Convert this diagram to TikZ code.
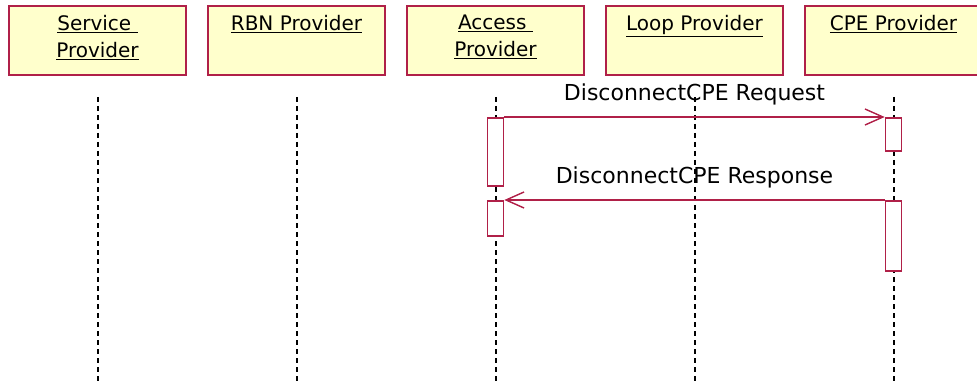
\documentclass[tikz,border=0pt]{standalone}
\usepackage{fontspec}
\setmainfont{DejaVu Sans}
\usepackage{xcolor}
\usetikzlibrary{arrows.meta}
\usetikzlibrary{positioning}
\definecolor{umlred}{RGB}{176,32,72}
\definecolor{umlfill}{RGB}{255,255,204}

\begin{document}
\begin{tikzpicture}[x=1pt, y=-1pt,
    actor/.style={draw=umlred, fill=umlfill, line width=1.6pt, minimum width=177pt, minimum height=69pt, inner sep=0pt},
    title/.style={align=center, inner sep=0pt, font=\fontsize{20}{27}\selectfont},
    lifeline/.style={black, line width=2pt, dash pattern=on 5pt off 4pt},
    activation/.style={draw=umlred, fill=white, line width=1.6pt, minimum width=16pt, inner sep=0pt, anchor=north},
    msg/.style={umlred, line width=1.4pt, -{Straight Barb[length=18pt, width=16pt]}},
    msglabel/.style={text=black, inner sep=0pt, font=\fontsize{22}{26}\selectfont}]
    \useasboundingbox (0,0) rectangle (977,385);
    \node[actor, anchor=north] (sp) at (97.5,5) {};
    \node[actor, right=20.4pt of sp] (rbn) {};
    \node[actor, right=20.4pt of rbn] (ap) {};
    \node[actor, right=20.4pt of ap] (lp) {};
    \node[actor, right=20.4pt of lp] (cpe) {};
    \node[title, below=10pt of sp.north] (sptxt) {\underline{Service\ }\\\underline{Provider}};
    \node[title, below=10pt of rbn.north] (rbntxt) {\underline{RBN Provider}};
    \node[title, below=10pt of ap.north] (aptxt) {\underline{Access\ }\\\underline{Provider}};
    \node[title, below=10pt of lp.north] (lptxt) {\underline{Loop Provider}};
    \node[title, below=10pt of cpe.north] (cpetxt) {\underline{CPE Provider}};
    \foreach \a in {sp, rbn, ap, lp, cpe} {
        \coordinate (\a top) at (\a.south |- 0,97);
        \coordinate (\a bot) at (\a.south |- 0,385);
        \draw[lifeline] (\a top) -- (\a bot);
    }
    \node[activation, minimum height=68pt] (ap1) at (ap.south |- 0,117) {};
    \node[activation, minimum height=35pt] (ap2) at (ap.south |- 0,200) {};
    \node[activation, minimum height=33pt] (cpe1) at (cpe.south |- 0,117) {};
    \node[activation, minimum height=70pt] (cpe2) at (cpe.south |- 0,200) {};
    \draw[msg] (ap1.north east) -- node[msglabel, above=11pt] (req) {DisconnectCPE Request} (cpe1.north west);
    \draw[msg] (cpe2.north west) -- node[msglabel, above=11pt] (resp) {DisconnectCPE Response} (ap2.north east);
\end{tikzpicture}
\end{document}
